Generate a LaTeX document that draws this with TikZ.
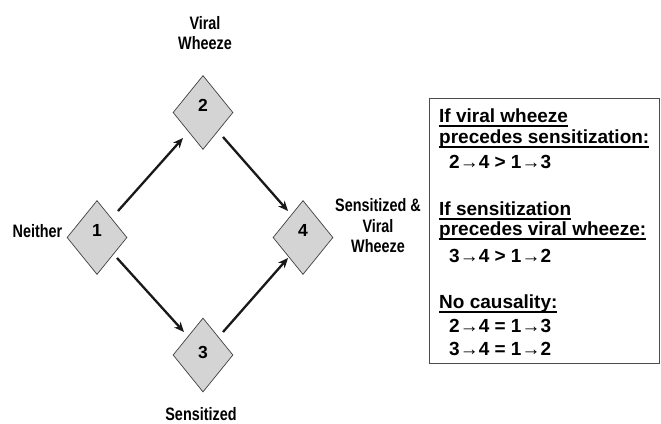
\documentclass[tikz,border=0pt]{standalone}
\usepackage{fontspec}
\setmainfont{Liberation Sans}
\newfontfamily\condfont[FakeStretch=0.8]{Liberation Sans}
\usetikzlibrary{shapes.geometric,arrows.meta}
\newcommand\myul[1]{\setbox0=\hbox{#1}\rlap{\rule[-4.5pt]{\wd0}{1.7pt}}\box0}
\newcommand\dnum[2]{\raisebox{\dimexpr #1-0.5\height\relax}[0pt][0pt]{#2}}
\begin{document}
\begin{tikzpicture}[x=1pt,y=-1pt,
  state/.style={diamond,draw=black!75,fill=black!17,line width=0.7pt,minimum width=60pt,minimum height=74pt,inner sep=0pt,font=\fontsize{17.5}{17.5}\selectfont\bfseries,aspect=0.82},
  lbl/.style={font=\condfont\fontsize{18}{20.5}\selectfont\bfseries,align=center,inner sep=0pt},
  arr/.style={line width=2.3pt,black!90,-{Stealth[length=10pt,width=8.5pt]}},
  boxtxt/.style={font=\fontsize{19}{20}\selectfont\bfseries,anchor=base west,inner sep=0pt}]
\useasboundingbox (0,0) rectangle (661,423);
\fill[white] (0,0) rectangle (661,423);
\node[state] (n1) at (97,237.5) {\dnum{7pt}{1}};
\node[state] (n2) at (203,112.5) {\dnum{7pt}{2}};
\node[state] (n3) at (203,355) {\dnum{3pt}{3}};
\node[state] (n4) at (303,237.5) {\dnum{7pt}{4}};
\node[lbl] (l1) at (37.5,231) {Neither};
\node[lbl] (l2) at (205,33) {Viral\\Wheeze};
\node[lbl] (l3) at (201,414) {Sensitized};
\node[lbl] (l4) at (378,226) {Sensitized \&\\Viral\\Wheeze};
\coordinate (a1s) at (118,211); \coordinate (a1e) at (183,138);
\coordinate (a2s) at (223,137); \coordinate (a2e) at (288,211);
\coordinate (a3s) at (117,258); \coordinate (a3e) at (184,332);
\coordinate (a4s) at (223,332); \coordinate (a4e) at (288,258);
\draw[arr] (a1s) -- (a1e);
\draw[arr] (a2s) -- (a2e);
\draw[arr] (a3s) -- (a3e);
\draw[arr] (a4s) -- (a4e);
\node[draw=black!70,line width=0.8pt,minimum width=230pt,minimum height=265pt,anchor=north west,inner sep=0pt] (box) at (429,98) {};
\node[boxtxt] (t1) at (439,122) {\myul{If viral wheeze}};
\node[boxtxt] (t2) at (439,143) {\myul{precedes sensitization:}};
\node[boxtxt] (t3) at (449,168) {2\textrightarrow4 > 1\textrightarrow3};
\node[boxtxt] (t4) at (439,215) {\myul{If sensitization}};
\node[boxtxt] (t5) at (439,235) {\myul{precedes viral wheeze:}};
\node[boxtxt] (t6) at (449,262) {3\textrightarrow4 > 1\textrightarrow2};
\node[boxtxt] (t7) at (439,308) {\myul{No causality:}};
\node[boxtxt] (t8) at (449,332) {2\textrightarrow4 = 1\textrightarrow3};
\node[boxtxt] (t9) at (449,355) {3\textrightarrow4 = 1\textrightarrow2};
\end{tikzpicture}
\end{document}
